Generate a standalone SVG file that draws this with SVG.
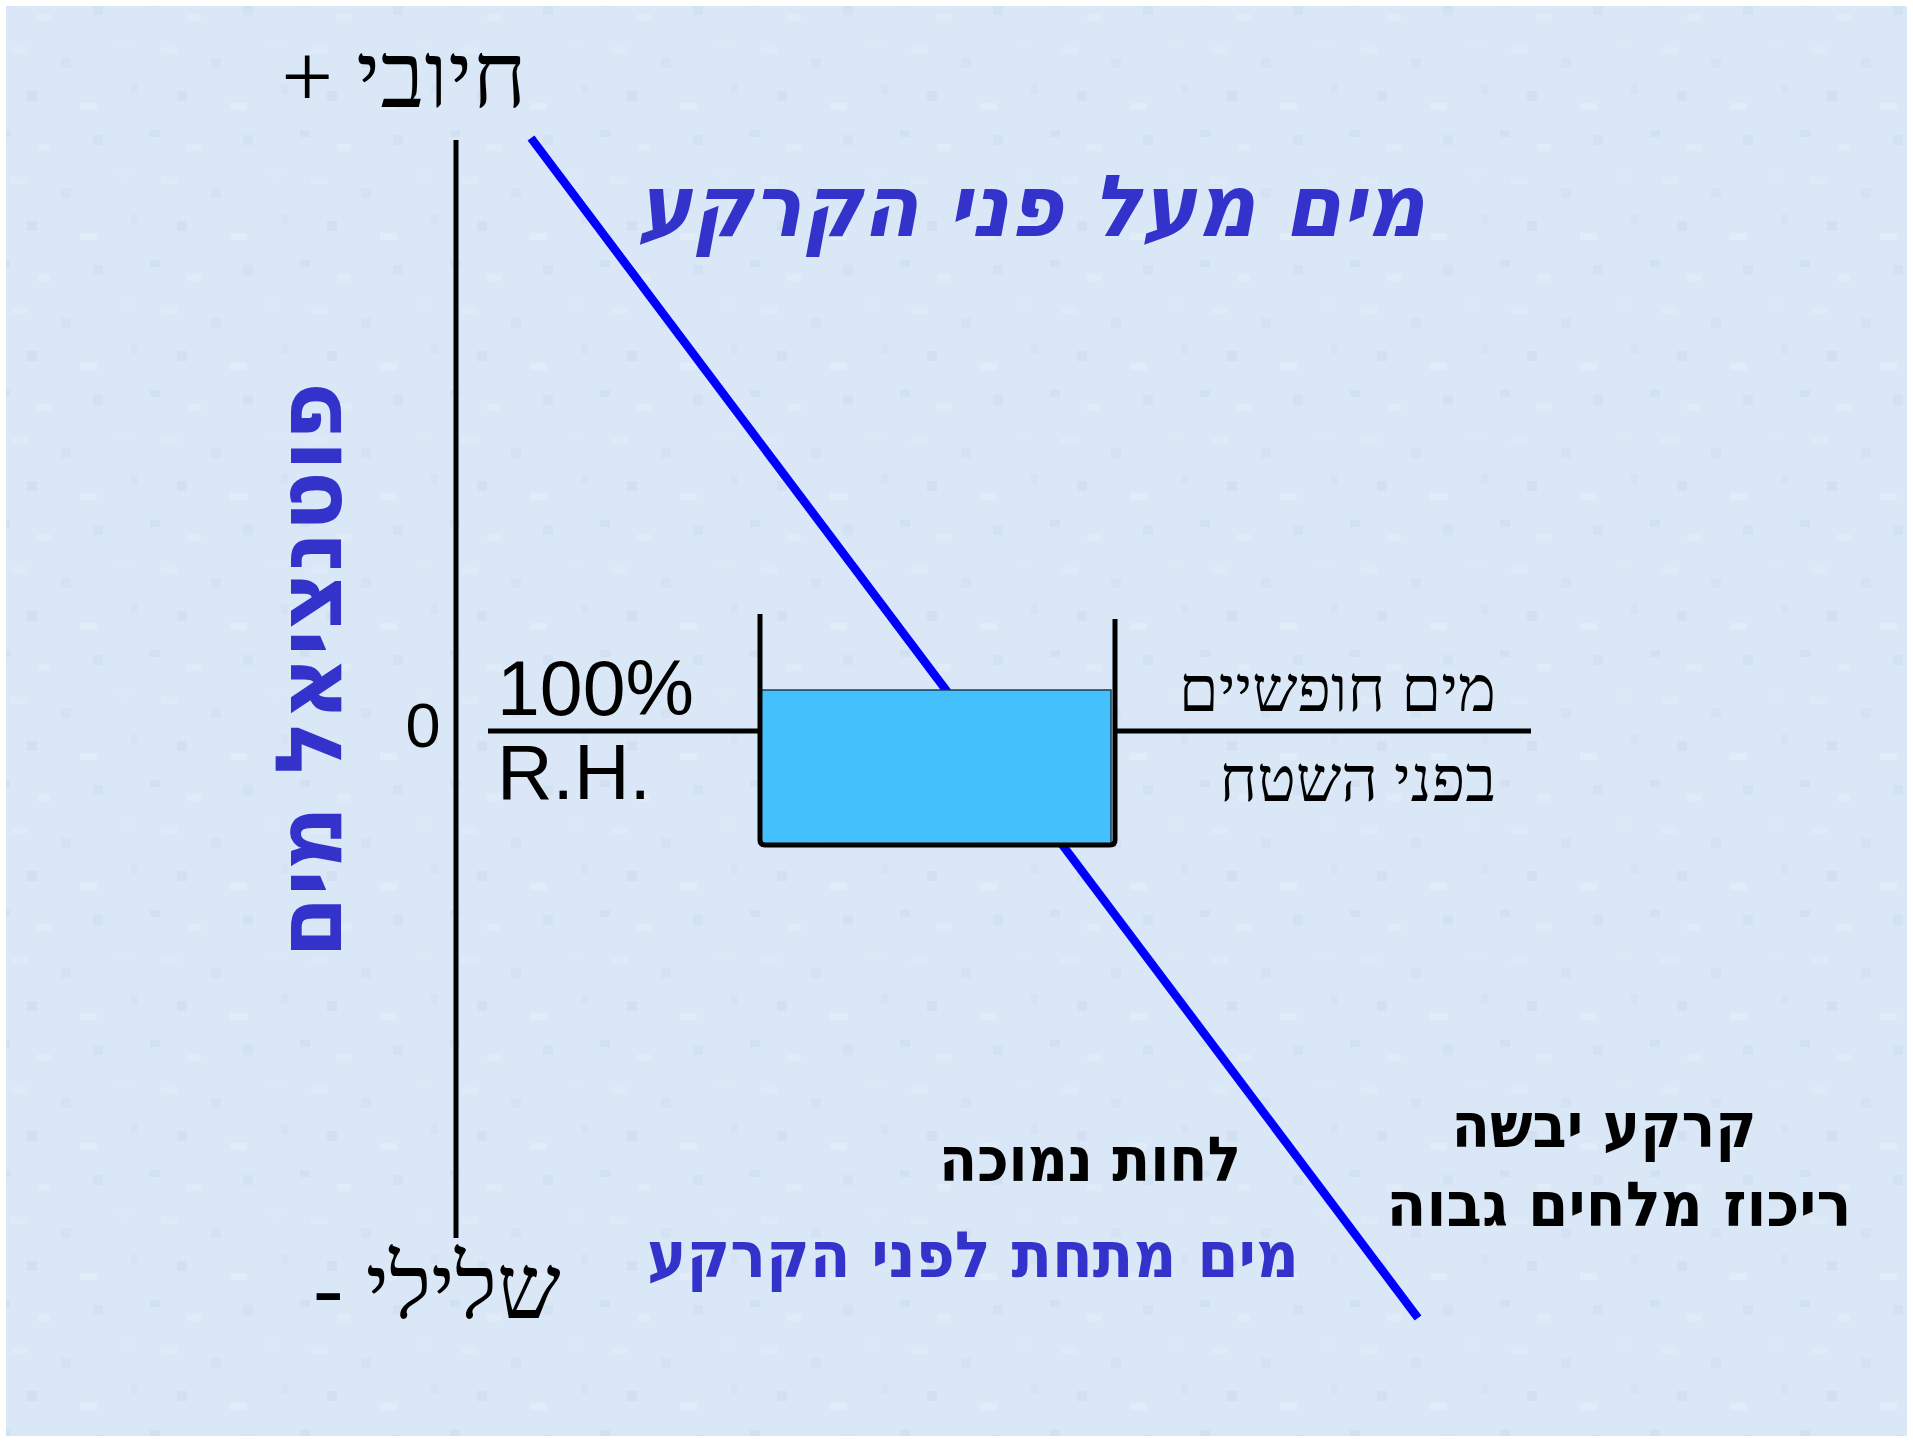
<svg xmlns="http://www.w3.org/2000/svg" width="1913" height="1442" viewBox="0 0 1913 1442">
<defs>
<pattern id="tex" x="0" y="0" width="150" height="130" patternUnits="userSpaceOnUse">
<rect width="150" height="130" fill="#d9e7f6"/>
<rect x="0" y="0" width="10" height="7" fill="#d2e1f2"/>
<rect x="37" y="14" width="14" height="7" fill="#e0ebf8"/>
<rect x="93" y="5" width="10" height="10" fill="#d3e2f3"/>
<rect x="11" y="47" width="17" height="7" fill="#dfeaf8"/>
<rect x="61" y="58" width="10" height="10" fill="#d4e2f3"/>
<rect x="118" y="41" width="14" height="7" fill="#dce8f6"/>
<rect x="27" y="91" width="10" height="10" fill="#d3e0f1"/>
<rect x="80" y="103" width="17" height="7" fill="#e1ecf9"/>
<rect x="131" y="84" width="7" height="10" fill="#d5e3f4"/>
</pattern>
<style>
.ax{stroke:#000;stroke-width:5;fill:none}
.blue{stroke:#0000ff;stroke-width:8.5;fill:none}
.ser{font-family:"Liberation Serif","DejaVu Serif",serif;fill:#000}
.sans{font-family:"Liberation Sans","DejaVu Sans",sans-serif;fill:#000}
.bold{font-family:"DejaVu Sans","Liberation Sans",sans-serif;font-weight:bold}
.script{font-family:"DejaVu Sans",sans-serif;font-weight:bold;font-style:italic;fill:#3333cc}
</style>
</defs>
<rect width="1913" height="1442" fill="#ffffff"/>
<rect x="6" y="6" width="1901" height="1430" fill="url(#tex)"/>

<g id="connectors">
<line id="axis" class="ax" x1="456" y1="140" x2="456" y2="1238"/>
<line id="curve" class="blue" x1="531" y1="138" x2="1418" y2="1318"/>
<line class="ax" x1="488" y1="731" x2="760" y2="731"/>
<line class="ax" x1="1115" y1="731" x2="1531" y2="731"/>
</g>

<g id="container">
<rect x="761" y="690" width="350" height="154" fill="#44c1fd" stroke="#1a3a55" stroke-width="1.5"/>
<path class="ax" d="M760 614 V840 Q760 845 765 845 H1110 Q1115 845 1115 840 V619" stroke-width="4.5"/>
</g>

<g id="label-positive"><text class="ser" x="404" y="107" font-size="92" text-anchor="middle" direction="rtl">חיובי +</text></g>
<g id="label-negative"><text class="ser" x="437" y="1318" font-size="90" text-anchor="middle" direction="rtl">שלילי -</text></g>
<g id="label-zero"><text class="sans" x="423" y="747" font-size="63" text-anchor="middle">0</text></g>
<g id="label-rh"><text class="sans" x="497" y="715" font-size="77">100%</text><text class="sans" x="497" y="799" font-size="77">R.H.</text></g>
<g id="label-free-water"><text class="ser" x="1496" y="711" font-size="64" text-anchor="end">מים חופשיים</text><text class="ser" x="1496" y="801" font-size="64" text-anchor="end">בפני השטח</text></g>
<g id="label-above"><text class="script" x="1031" y="236" font-size="86" text-anchor="middle" textLength="788" lengthAdjust="spacingAndGlyphs">מים מעל פני הקרקע</text></g>
<g id="label-potential"><text class="bold" transform="translate(341 670) rotate(-90)" font-size="92" fill="#3333cc" text-anchor="middle" textLength="576" lengthAdjust="spacingAndGlyphs">פוטנציאל מים</text></g>
<g id="label-low-humidity"><text class="bold" x="1090" y="1181" font-size="62" fill="#000" text-anchor="middle" textLength="302" lengthAdjust="spacingAndGlyphs">לחות נמוכה</text></g>
<g id="label-below"><text class="bold" x="973" y="1277" font-size="64" fill="#3333cc" text-anchor="middle" textLength="652" lengthAdjust="spacingAndGlyphs">מים מתחת לפני הקרקע</text></g>
<g id="label-dry"><text class="bold" x="1604" y="1147" font-size="62" fill="#000" text-anchor="middle" textLength="305" lengthAdjust="spacingAndGlyphs">קרקע יבשה</text><text class="bold" x="1619" y="1226" font-size="62" fill="#000" text-anchor="middle" textLength="465" lengthAdjust="spacingAndGlyphs">ריכוז מלחים גבוה</text></g>
</svg>
